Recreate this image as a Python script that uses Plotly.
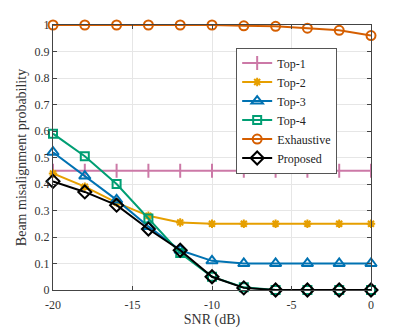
import plotly.graph_objects as go

snr = [-20, -18, -16, -14, -12, -10, -8, -6, -4, -2, 0]
x_ticks = [-20, -15, -10, -5, 0]
x_labels = ["-20", "-15", "-10", "-5", "0"]

top1 = [0.45, 0.45, 0.45, 0.45, 0.45, 0.45, 0.45, 0.45, 0.45, 0.45, 0.45]
top2 = [0.44, 0.39, 0.33, 0.28, 0.255, 0.25, 0.25, 0.25, 0.25, 0.25, 0.25]
top3 = [0.52, 0.43, 0.34, 0.24, 0.15, 0.11, 0.10, 0.10, 0.10, 0.10, 0.10]
top4 = [0.59, 0.505, 0.40, 0.27, 0.14, 0.05, 0.01, 0.0, 0.0, 0.0, 0.0]
exhaustive = [1.0, 1.0, 1.0, 1.0, 1.0, 1.0, 0.997, 0.995, 0.988, 0.98, 0.96]
proposed = [0.41, 0.37, 0.32, 0.23, 0.15, 0.05, 0.008, 0.0, 0.0, 0.0, 0.0]

series = [
    ("Top-1", top1, "#CC79A7", "line-ns-open", 10),
    ("Top-2", top2, "#E69F00", "asterisk-open", 7),
    ("Top-3", top3, "#0072B2", "triangle-up-open", 10),
    ("Top-4", top4, "#009E73", "square-open", 8),
    ("Exhaustive", exhaustive, "#D55E00", "circle-open", 9),
    ("Proposed", proposed, "#000000", "diamond-open", 10),
]

SERIF = "Liberation Serif, DejaVu Serif, Times New Roman, serif"

fig = go.Figure()
for name, vals, col, sym, sz in series:
    fig.add_trace(go.Scatter(
        x=snr, y=vals, name=name, mode="lines+markers",
        line=dict(color=col, width=2),
        marker=dict(symbol=sym, size=sz, color=col, line=dict(color=col, width=2)),
        cliponaxis=False,
    ))

axis_common = dict(
    showline=True, linecolor="#444", linewidth=1, mirror="ticks",
    ticks="inside", ticklen=4, tickcolor="#444",
    showgrid=True, gridcolor="#e6e6e6", zeroline=False,
    tickfont=dict(family=SERIF, size=12, color="#333"),
    automargin=False,
)

fig.update_xaxes(range=[-20, 0], tickmode="array", tickvals=x_ticks, ticktext=x_labels,
                 ticklabelstandoff=4,
                 title=dict(text="SNR (dB)", font=dict(family=SERIF, size=14, color="#333"), standoff=2),
                 **axis_common)
fig.update_yaxes(range=[0, 1], dtick=0.1,
                 title=dict(text="Beam misalignment probability", font=dict(family=SERIF, size=14, color="#333"), standoff=4),
                 **axis_common)

# page body adds an 8px offset, so margins are shifted to compensate
fig.update_layout(
    width=409, height=327,
    margin=dict(l=45, r=46, t=17, b=45),
    paper_bgcolor="white", plot_bgcolor="white",
    font=dict(family=SERIF, color="#222"),
    legend=dict(
        x=0.576, y=0.915, xanchor="left", yanchor="top",
        bgcolor="white", bordercolor="#555", borderwidth=1,
        font=dict(family=SERIF, size=12, color="#222"), tracegroupgap=0,
        itemwidth=30,
    ),
)

fig.write_html("out.html")
